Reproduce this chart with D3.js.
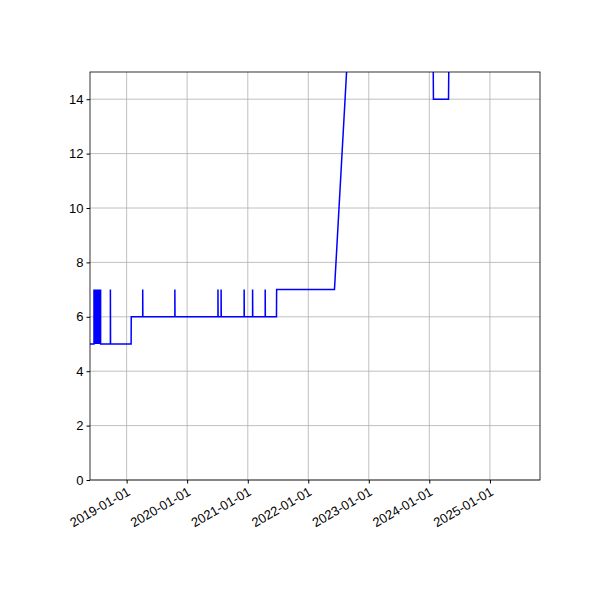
<!DOCTYPE html>
<html><head><meta charset="utf-8">
<script src="https://cdn.jsdelivr.net/npm/d3@7"></script>
<style>body{margin:0;background:#fff}</style>
</head><body><div id="vis"></div>
<script>
// data
const DATES = ["2018-05-25","2018-06-18","2018-06-18","2018-06-22","2018-06-22","2018-06-22","2018-06-26","2018-06-26","2018-06-30","2018-06-30","2018-07-05","2018-07-05","2018-07-10","2018-07-10","2018-07-15","2018-07-15","2018-07-22","2018-07-22","2018-07-28","2018-07-28",
"2018-09-25","2018-09-25","2018-09-26","2019-01-28","2019-01-29","2019-04-08","2019-04-08","2019-04-09","2019-10-19","2019-10-19","2019-10-20",
"2020-07-05","2020-07-05","2020-07-06","2020-07-24","2020-07-24","2020-07-25","2020-12-10","2020-12-10","2020-12-11","2021-01-30","2021-01-30","2021-01-31",
"2021-04-16","2021-04-16","2021-04-17","2021-06-23","2021-06-24","2022-06-08","2022-08-20","2022-10-01","2023-06-01","2024-01-20","2024-01-26","2024-04-26","2024-05-05"];
const VALUES = [5,5,7,5,7,5,7,5,7,5,7,5,7,5,7,5,7,5,7,5,
5,7,5,5,6,6,7,6,6,7,6,
6,7,6,6,7,6,6,7,6,6,7,6,
6,7,6,6,7,7,15,20,30,20,14,14,20];
const Y_TICKS = [0,2,4,6,8,10,12,14];
const X_TICKS = ["2019-01-01","2020-01-01","2021-01-01","2022-01-01","2023-01-01","2024-01-01","2025-01-01"];

const W = 600, H = 600;
const M = {left: 90, right: 60, top: 72, bottom: 120};
const parse = d3.timeParse("%Y-%m-%d");
const data = DATES.map((d, i) => ({date: parse(d), value: VALUES[i]}));

const svg = d3.select("#vis").append("svg").attr("width", W).attr("height", H)
	.style("font-family", "DejaVu Sans");

const X_SCALE = d3.scaleTime().domain([parse("2018-05-25"), parse("2025-10-30")]).range([M.left, W - M.right]);
const Y_SCALE = d3.scaleLinear().domain([0, 15]).range([H - M.bottom, M.top]);

// grid
svg.append("g").selectAll("line").data(X_TICKS).enter().append("line")
	.attr("x1", d => X_SCALE(parse(d))).attr("x2", d => X_SCALE(parse(d)))
	.attr("y1", M.top).attr("y2", H - M.bottom).attr("stroke", "#b0b0b0").attr("stroke-width", 0.8);
svg.append("g").selectAll("line").data(Y_TICKS).enter().append("line")
	.attr("x1", M.left).attr("x2", W - M.right)
	.attr("y1", d => Y_SCALE(d)).attr("y2", d => Y_SCALE(d)).attr("stroke", "#b0b0b0").attr("stroke-width", 0.8);

// line
svg.append("clipPath").attr("id", "clip").append("rect")
	.attr("x", M.left).attr("y", M.top).attr("width", W - M.left - M.right).attr("height", H - M.top - M.bottom);
svg.append("path").datum(data)
	.attr("clip-path", "url(#clip)")
	.attr("fill", "none").attr("stroke", "blue").attr("stroke-width", 1.5)
	.attr("d", d3.line().x(d => X_SCALE(d.date)).y(d => Y_SCALE(d.value)));

// axes
const xAxis = svg.append("g").attr("transform", "translate(0," + (H - M.bottom) + ")")
	.call(d3.axisBottom(X_SCALE).tickValues(X_TICKS.map(parse)).tickFormat(d3.timeFormat("%Y-%m-%d")).tickSize(3.5).tickSizeOuter(0));
xAxis.selectAll("text").attr("font-size", "13px").attr("fill", "#000")
	.style("text-anchor", "end").attr("transform", "rotate(-30)").attr("dx", "-0.3em").attr("dy", "0.6em");
svg.append("g").attr("transform", "translate(" + M.left + ",0)")
	.call(d3.axisLeft(Y_SCALE).tickValues(Y_TICKS).tickSize(3.5).tickSizeOuter(0))
	.selectAll("text").attr("font-size", "13px").attr("fill", "#000");
svg.selectAll(".domain").remove();
svg.append("rect").attr("x", M.left).attr("y", M.top).attr("width", W - M.left - M.right).attr("height", H - M.top - M.bottom)
	.attr("fill", "none").attr("stroke", "#000").attr("stroke-width", 0.8);
</script></body></html>
